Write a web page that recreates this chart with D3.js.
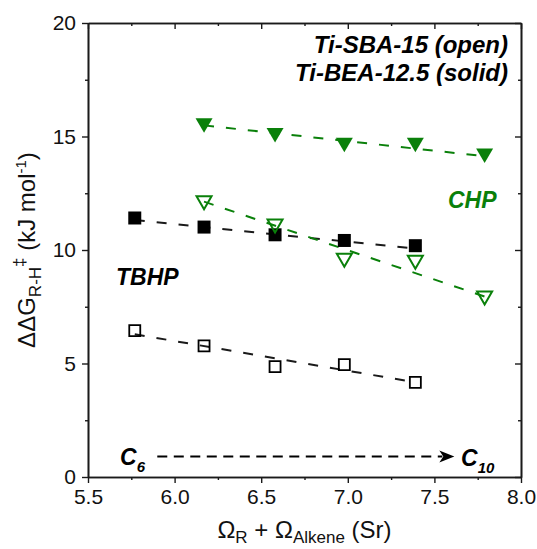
<!DOCTYPE html>
<html>
<head>
<meta charset="utf-8">
<script src="https://d3js.org/d3.v7.min.js"></script>
<style>
  body { margin: 0; background: #fff; }
  text { font-family: "Liberation Sans", Arial, sans-serif; }
</style>
</head>
<body>
<script>
// x positions of the alkenes (C6 .. C10)
const xTBHP = [5.77, 6.17, 6.58, 6.98, 7.39];
const xCHP = [6.17, 6.58, 6.98, 7.39, 7.79];

// measured values
const tbhpSolid = [11.41, 11.01, 10.67, 10.42, 10.19];
const tbhpOpen = [6.45, 5.78, 4.86, 4.95, 4.17];
const chpSolid = [15.50, 15.07, 14.64, 14.64, 14.16];
const chpOpen = [12.10, 11.08, 9.57, 9.48, 7.91];

// dashed trend lines, value at first and last x
const fitTbhpSolid = [11.32, 10.06];
const fitTbhpOpen = [6.29, 4.17];
const fitChpSolid = [15.49, 14.13];
const fitChpOpen = [12.13, 7.95];

const xTicks = [5.5, 6.0, 6.5, 7.0, 7.5, 8.0];
const xMinor = [5.75, 6.25, 6.75, 7.25, 7.75];
const yTicks = [0, 5, 10, 15, 20];
const yMinor = [2.5, 7.5, 12.5, 17.5];

// C6 -> C10 arrow
const arrowX = [5.90, 7.615];
const arrowY = 0.9;

const width = 537, height = 549;
const margin = { top: 23, right: 16, bottom: 72, left: 88 };
const green = "#0a800a";
const ink = "#1a1a1a";

const svg = d3.select("body").append("svg")
    .attr("width", width)
    .attr("height", height);

const x = d3.scaleLinear().domain([5.5, 8.0]).range([margin.left, width - margin.right]);
const y = d3.scaleLinear().domain([0, 20]).range([height - margin.bottom, margin.top]);

function styleAxis(g) {
    g.selectAll(".domain").attr("stroke", ink).attr("stroke-width", 1.6);
    g.selectAll(".tick line").attr("stroke", ink).attr("stroke-width", 1.4);
    g.selectAll(".tick text")
        .attr("fill", "#111")
        .style("font-size", "21px")
        .style("font-family", "Liberation Sans, Arial, sans-serif");
}

// bottom axis
svg.append("g")
    .attr("transform", `translate(0,${y(0)})`)
    .call(d3.axisBottom(x).tickValues(xTicks).tickFormat(d3.format(".1f")).tickSize(6).tickSizeOuter(0).tickPadding(6))
    .call(styleAxis);
svg.append("g")
    .attr("transform", `translate(0,${y(0)})`)
    .call(d3.axisBottom(x).tickValues(xMinor).tickFormat("").tickSize(3).tickSizeOuter(0))
    .call(styleAxis);

// top axis, ticks inward
svg.append("g")
    .attr("transform", `translate(0,${y(20)})`)
    .call(d3.axisTop(x).tickValues(xTicks).tickFormat("").tickSize(-6).tickSizeOuter(0))
    .call(styleAxis);
svg.append("g")
    .attr("transform", `translate(0,${y(20)})`)
    .call(d3.axisTop(x).tickValues(xMinor).tickFormat("").tickSize(-3).tickSizeOuter(0))
    .call(styleAxis);

// left axis
svg.append("g")
    .attr("transform", `translate(${x(5.5)},0)`)
    .call(d3.axisLeft(y).tickValues(yTicks).tickFormat(d3.format("d")).tickSize(6).tickSizeOuter(0).tickPadding(6))
    .call(styleAxis);
svg.append("g")
    .attr("transform", `translate(${x(5.5)},0)`)
    .call(d3.axisLeft(y).tickValues(yMinor).tickFormat("").tickSize(3).tickSizeOuter(0))
    .call(styleAxis);

// right axis, ticks inward
svg.append("g")
    .attr("transform", `translate(${x(8)},0)`)
    .call(d3.axisRight(y).tickValues(yTicks).tickFormat("").tickSize(-6).tickSizeOuter(0))
    .call(styleAxis);
svg.append("g")
    .attr("transform", `translate(${x(8)},0)`)
    .call(d3.axisRight(y).tickValues(yMinor).tickFormat("").tickSize(-3).tickSizeOuter(0))
    .call(styleAxis);

// trend lines
function fitLine(xs, fit, color) {
    svg.append("line")
        .attr("x1", x(xs[0])).attr("y1", y(fit[0]))
        .attr("x2", x(xs[xs.length - 1])).attr("y2", y(fit[1]))
        .attr("stroke", color)
        .attr("stroke-width", 2)
        .attr("stroke-dasharray", "10,12");
}
fitLine(xTBHP, fitTbhpSolid, ink);
fitLine(xTBHP, fitTbhpOpen, ink);
fitLine(xCHP, fitChpSolid, green);
fitLine(xCHP, fitChpOpen, green);

// markers
function markers(xs, ys, shape, fill, stroke, sw) {
    svg.append("g").selectAll("path")
        .data(xs.map((d, i) => [d, ys[i]]))
        .join("path")
        .attr("transform", d => `translate(${x(d[0])},${y(d[1])})`)
        .attr("d", shape)
        .attr("fill", fill)
        .attr("stroke", stroke)
        .attr("stroke-width", sw);
}
const squareFilled = "M-6.5,-6.5H6.5V6.5H-6.5Z";
const squareOpen = "M-5.5,-5.5H5.5V5.5H-5.5Z";
const triFilled = "M-8.5,-7L8.5,-7L0,7.5Z";
const triOpen = "M-7.5,-6L7.5,-6L0,7Z";

markers(xTBHP, tbhpSolid, squareFilled, "#000", "none", 0);
markers(xTBHP, tbhpOpen, squareOpen, "none", "#000", 1.8);
markers(xCHP, chpSolid, triFilled, green, "none", 0);
markers(xCHP, chpOpen, triOpen, "none", green, 2);

// C6 -> C10 arrow
svg.append("line")
    .attr("x1", x(arrowX[0])).attr("y1", y(arrowY))
    .attr("x2", x(arrowX[1]) - 12).attr("y2", y(arrowY))
    .attr("stroke", "#000")
    .attr("stroke-width", 2)
    .attr("stroke-dasharray", "10,6.5");
svg.append("path")
    .attr("transform", `translate(${x(arrowX[1])},${y(arrowY)})`)
    .attr("d", "M0,0L-15,-6L-11,0L-15,6Z")
    .attr("fill", "#000");

function label(txt, px, py, size, color, anchor) {
    return svg.append("text")
        .attr("x", px).attr("y", py)
        .attr("fill", color)
        .attr("text-anchor", anchor || "start")
        .style("font-size", size + "px")
        .style("font-weight", "bold")
        .style("font-style", "italic")
        .text(txt);
}

const c6 = label("C", 120, 465, 23, "#000");
c6.append("tspan").attr("dy", 7).style("font-size", "15px").text("6");
const c10 = label("C", 461, 466, 23, "#000");
c10.append("tspan").attr("dy", 7).style("font-size", "15px").text("10");

label("Ti-SBA-15 (open)", 508, 53, 24, "#000", "end");
label("Ti-BEA-12.5 (solid)", 508, 81, 24, "#000", "end");
label("TBHP", 116, 285, 23, "#000");
label("CHP", 448, 208, 23, green);

// axis titles
const xt = svg.append("text")
    .attr("x", (x(5.5) + x(8)) / 2)
    .attr("y", 538)
    .attr("text-anchor", "middle")
    .attr("fill", "#111")
    .style("font-size", "24px");
xt.append("tspan").text("Ω");
xt.append("tspan").attr("dy", 5).style("font-size", "17px").text("R");
xt.append("tspan").attr("dy", -5).text(" + Ω");
xt.append("tspan").attr("dy", 5).style("font-size", "17px").text("Alkene");
xt.append("tspan").attr("dy", -5).text(" (Sr)");

const yt = svg.append("text")
    .attr("transform", `translate(35,${(y(0) + y(20)) / 2}) rotate(-90)`)
    .attr("text-anchor", "middle")
    .attr("fill", "#111")
    .style("font-size", "24px");
yt.append("tspan").text("ΔΔG");
yt.append("tspan").attr("dy", 6).style("font-size", "17px").text("R-H");
yt.append("tspan").attr("dy", -16).style("font-size", "17px").text("‡");
yt.append("tspan").attr("dy", 10).text(" (kJ mol");
yt.append("tspan").attr("dy", -9).style("font-size", "15px").text("-1");
yt.append("tspan").attr("dy", 9).text(")");
</script>
</body>
</html>
